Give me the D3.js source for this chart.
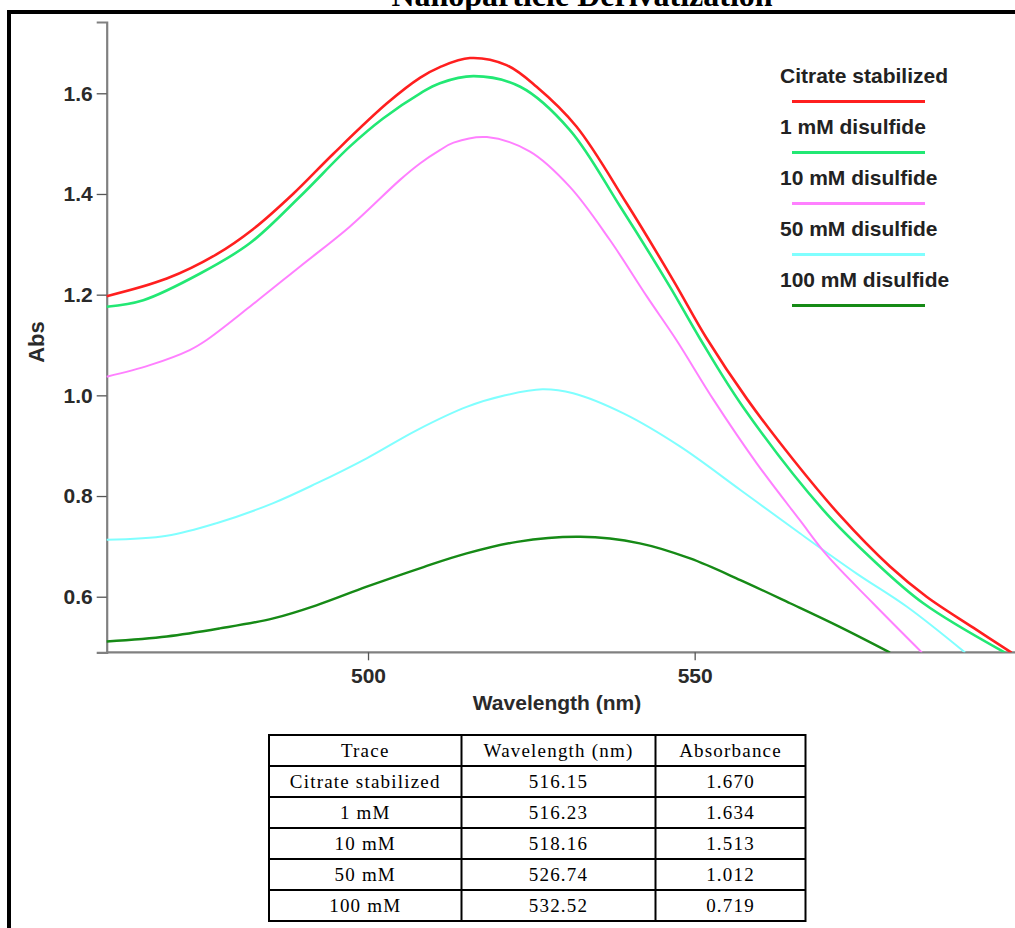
<!DOCTYPE html>
<html>
<head>
<meta charset="utf-8">
<script src="https://cdn.jsdelivr.net/npm/d3@7"></script>
<style>
  html, body { margin: 0; padding: 0; background: #fff; overflow: hidden; }
</style>
</head>
<body>
<div id="chart"></div>
<script>
// ---- data ----
const seriesNames = ["Citrate stabilized", "1 mM disulfide", "10 mM disulfide", "50 mM disulfide", "100 mM disulfide"];

const citrate = [[460,1.197],[469.2,1.232],[476.8,1.280],[482.4,1.330],[488.6,1.401],[494.7,1.480],[502.9,1.580],
  [508,1.631],[511,1.652],[515.6,1.670],[521.2,1.656],[525.8,1.613],[531.9,1.534],[539.6,1.381],[546.7,1.229],
  [551.8,1.114],[558,0.993],[565.1,0.872],[572.2,0.762],[579.9,0.660],[585.5,0.600],[592.7,0.538],[598.5,0.489]];
const mM1 = [[460,1.176],[465.6,1.189],[474.3,1.242],[481.9,1.302],[489.6,1.395],[497.2,1.494],[502.3,1.550],
  [508,1.600],[511,1.620],[516.2,1.634],[523.3,1.613],[530.9,1.527],[538.6,1.375],[546.2,1.216],[550.8,1.113],
  [557.4,0.977],[569.7,0.772],[577.3,0.673],[585,0.587],[597.5,0.489]];
const mM10 = [[460,1.037],[466.6,1.060],[472.7,1.090],[475.3,1.110],[481.9,1.176],[489.6,1.256],[497.2,1.335],
  [504.9,1.428],[508,1.461],[511,1.487],[513.1,1.502],[518.2,1.513],[524.8,1.484],[530.9,1.414],[537,1.309],
  [542.7,1.196],[547.2,1.110],[552.9,0.991],[559.5,0.865],[566.1,0.752],[570.2,0.683],[577.3,0.587],[584.8,0.489]];
const mM50 = [[460,0.713],[469.2,0.721],[476.8,0.746],[485.5,0.786],[492.1,0.825],[499.8,0.875],[507.5,0.931],
  [515.1,0.977],[521,1.000],[526.7,1.012],[531.4,1.004],[539.1,0.964],[547.8,0.898],[557,0.812],[566.1,0.726],
  [574.8,0.646],[582.5,0.580],[591.4,0.489]];
const mM100 = [[460,0.511],[469.2,0.521],[477.3,0.537],[485.5,0.557],[492.1,0.583],[499.8,0.620],[508.5,0.659],
  [515.1,0.686],[522.8,0.709],[532.5,0.719],[541.6,0.706],[549.3,0.676],[557,0.633],[564.6,0.587],[572.2,0.540],
  [579.9,0.489]];
const seriesData = [citrate, mM1, mM10, mM50, mM100];

const xTicks = [500, 550];
const yTicks = [0.6, 0.8, 1.0, 1.2, 1.4, 1.6];

// table of peak values
const tableHead = ["Trace", "Wavelength (nm)", "Absorbance"];
const traceLabels = ["Citrate stabilized", "1 mM", "10 mM", "50 mM", "100 mM"];
const peakWavelengths = ["516.15", "516.23", "518.16", "526.74", "532.52"];
const peakAbs = ["1.670", "1.634", "1.513", "1.012", "0.719"];

// styles
const colors = ["#ff1f1f", "#22e874", "#ff80ff", "#80ffff", "#168a16"];
const widths = [2.6, 2.6, 2, 2, 2.4];
const labelFont = "'Liberation Sans', Arial, sans-serif";

const W = 1015, H = 928;
const svg = d3.select("#chart").append("svg")
    .attr("width", W)
    .attr("height", H)
    .style("font-family", labelFont);

// title (cut off at the top, as in the source) and page border
svg.append("text")
    .attr("x", 582)
    .attr("y", 6)
    .attr("text-anchor", "middle")
    .style("font-family", "'Liberation Serif', 'Times New Roman', serif")
    .style("font-weight", "bold")
    .style("font-size", "32px")
    .text("Nanoparticle Derivatization");

svg.append("rect")
    .attr("x", 9).attr("y", 12)
    .attr("width", 1100).attr("height", 1000)
    .attr("fill", "none")
    .attr("stroke", "#000")
    .attr("stroke-width", 4);

// scales
const x = d3.scaleLinear().domain([460, 600]).range([106.7, 106.7 + 140 * 6.533]);
const y = d3.scaleLinear().domain([0.4896, 1.7416]).range([652.3, 22]);

svg.append("clipPath").attr("id", "plotclip")
    .append("rect")
    .attr("x", 106).attr("y", 20)
    .attr("width", 920).attr("height", 652.3 - 20);

// axes
const axisColor = "#808080";
const gx = svg.append("g")
    .attr("transform", `translate(0,${y.range()[0]})`)
    .call(d3.axisBottom(x).tickValues(xTicks).tickSize(8).tickPadding(8).tickFormat(d3.format("d")));
const gy = svg.append("g")
    .attr("transform", `translate(${x.range()[0]},0)`)
    .call(d3.axisLeft(y).tickValues(yTicks).tickSize(10).tickPadding(4).tickFormat(d3.format(".1f")));

[gx, gy].forEach(g => {
    g.select(".domain").attr("stroke", axisColor).attr("stroke-width", 2.2);
    g.selectAll(".tick line").attr("stroke", "#555").attr("stroke-width", 1.3);
    g.selectAll(".tick text")
        .attr("fill", "#2a2a2a")
        .style("font-size", "21px")
        .style("font-weight", "bold")
        .style("font-family", labelFont);
});
gx.select(".domain").attr("d", `M${x.range()[0]},0H${W + 10}`);

// axis labels
svg.append("text")
    .attr("transform", "translate(44,342) rotate(-90)")
    .attr("text-anchor", "middle")
    .attr("fill", "#2a2a2a")
    .style("font-size", "22px")
    .style("font-weight", "bold")
    .text("Abs");

svg.append("text")
    .attr("x", 557)
    .attr("y", 710)
    .attr("text-anchor", "middle")
    .attr("fill", "#2a2a2a")
    .style("font-size", "21px")
    .style("font-weight", "bold")
    .text("Wavelength (nm)");

// spectra
const line = d3.line()
    .x(d => x(d[0]))
    .y(d => y(d[1]))
    .curve(d3.curveCatmullRom.alpha(0.5));

const plot = svg.append("g").attr("clip-path", "url(#plotclip)");
// draw back to front so red ends on top
for (let i = seriesData.length - 1; i >= 0; i--) {
    plot.append("path")
        .datum(seriesData[i])
        .attr("d", line)
        .attr("fill", "none")
        .attr("stroke", colors[i])
        .attr("stroke-width", widths[i])
        .attr("stroke-linejoin", "round");
}

// legend
const legend = svg.append("g").attr("transform", "translate(780,75)");
seriesNames.forEach((name, i) => {
    const row = legend.append("g").attr("transform", `translate(0,${i * 51})`);
    row.append("text")
        .attr("x", 0).attr("y", 7.5)
        .attr("fill", "#222")
        .style("font-size", "21px")
        .style("font-weight", "bold")
        .text(name);
    row.append("line")
        .attr("x1", 12).attr("x2", 145)
        .attr("y1", 26.5).attr("y2", 26.5)
        .attr("stroke", colors[i])
        .attr("stroke-width", 3);
});

// peak table
const colEdges = [269, 461.5, 655.5, 805.5];
const rowTop = 735, rowH = 31;
const rows = [tableHead].concat(traceLabels.map((t, i) => [t, peakWavelengths[i], peakAbs[i]]));
const table = svg.append("g");

rows.forEach((r, ri) => {
    r.forEach((cell, ci) => {
        table.append("text")
            .attr("x", (colEdges[ci] + colEdges[ci + 1]) / 2)
            .attr("y", rowTop + ri * rowH + rowH / 2 + 6.5)
            .attr("text-anchor", "middle")
            .attr("fill", "#000")
            .style("font-family", "'Liberation Serif', 'Times New Roman', serif")
            .style("font-size", "19px")
            .style("letter-spacing", "1.2px")
            .text(cell);
    });
});

const tableBottom = rowTop + rows.length * rowH;
d3.range(rows.length + 1).forEach(k => {
    table.append("line")
        .attr("x1", colEdges[0]).attr("x2", colEdges[3])
        .attr("y1", rowTop + k * rowH).attr("y2", rowTop + k * rowH)
        .attr("stroke", "#000").attr("stroke-width", 2);
});
colEdges.forEach(cx => {
    table.append("line")
        .attr("x1", cx).attr("x2", cx)
        .attr("y1", rowTop - 1).attr("y2", tableBottom + 1)
        .attr("stroke", "#000").attr("stroke-width", 2);
});
</script>
</body>
</html>
